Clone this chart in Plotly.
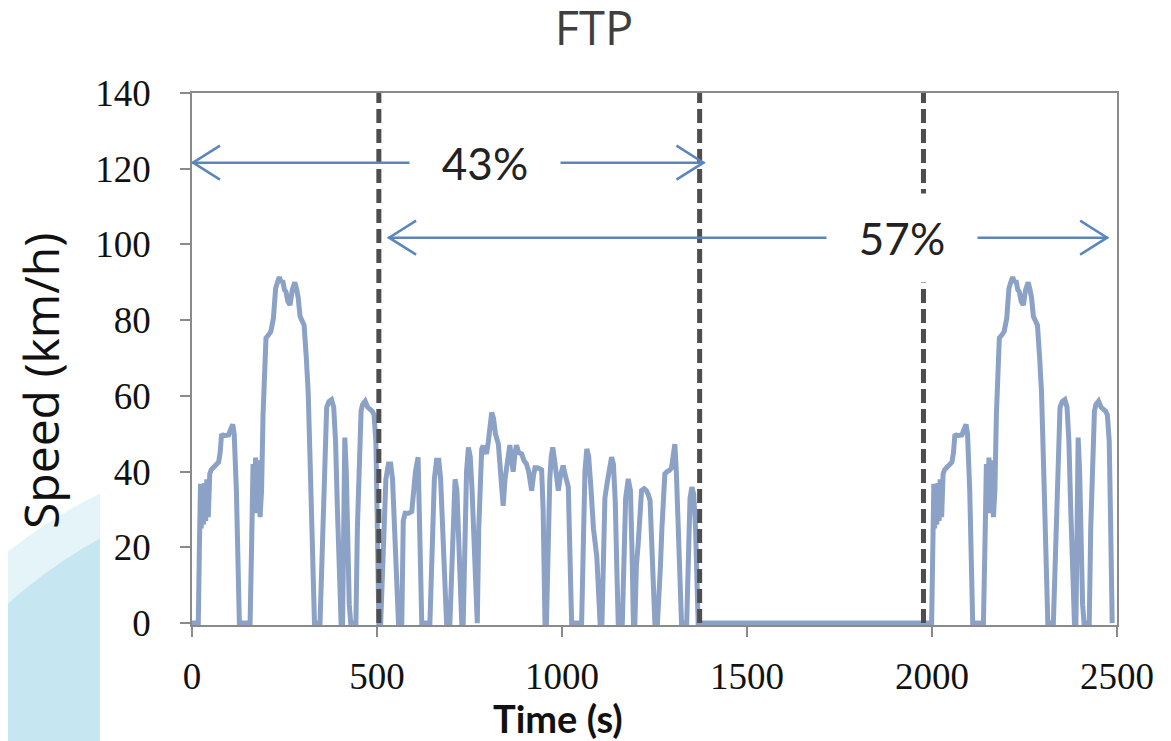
import plotly.graph_objects as go

# ---------------- data ----------------
phase1_time = [0, 17, 20, 23, 25, 28, 31, 34, 37, 40,
               44, 48, 52, 57, 62, 67, 72, 76, 80, 85,
               92, 99, 104, 110, 114, 120, 128, 157, 161, 165,
               168, 172, 176, 180, 184, 188, 192, 196, 200, 206,
               213, 220, 226, 231, 236, 241, 245, 250, 254, 259,
               265, 271, 278, 283, 287, 292, 298, 303, 309, 314,
               320, 326, 331, 346, 352, 358, 364, 370, 377, 383,
               388, 393, 398, 403, 407, 410, 413, 417, 421, 425,
               429, 443, 447, 452, 457, 461, 468, 475, 481, 487,
               492, 497, 501, 505]
phase1_speed = [0, 0, 20, 36.8, 25, 36, 26, 37, 27, 38,
                28, 39.4, 40.5, 41.2, 41.5, 42, 42.5, 45, 49.9, 49.5,
                49.5, 49.7, 51, 52.5, 50, 35, 0, 0, 20, 42,
                30, 43.7, 29, 43, 28, 35, 55, 70, 75.3, 76,
                77, 80.5, 88.4, 90, 91.4, 90, 90.5, 88, 87.5, 85,
                84, 88, 90, 88, 86, 81, 80, 78.7, 70, 61,
                40, 15, 0, 0, 20, 42, 57, 58.5, 59, 57,
                48, 30, 12, 0, 0, 25, 49, 40, 20, 5,
                0, 0, 25, 44, 56, 57.7, 58.6, 57, 56.5, 56,
                55, 48, 25, 0]

phase2_time = [510, 516, 524, 531, 537, 542, 547, 553, 558, 567,
               571, 576, 585, 594, 598, 604, 611, 615, 621, 643,
               649, 655, 661, 667, 672, 678, 688, 697, 702, 707,
               711, 716, 722, 729, 733, 737, 742, 747, 752, 757,
               762, 768, 771, 775, 779, 783, 787, 792, 796, 801,
               806, 810, 815, 820, 828, 834, 841, 846, 850, 855,
               859, 864, 868, 873, 877, 883, 891, 897, 904, 910,
               914, 918, 923, 927, 934, 940, 945, 949, 954, 958,
               962, 967, 971, 975, 980, 985, 990, 996, 1003, 1009,
               1017, 1021, 1026, 1053, 1057, 1062, 1067, 1072, 1078, 1085,
               1094, 1099, 1103, 1108, 1112, 1116, 1122, 1128, 1134, 1139,
               1144, 1148, 1152, 1163, 1167, 1172, 1179, 1185, 1189, 1193,
               1197, 1201, 1206, 1211, 1215, 1222, 1228, 1233, 1238, 1243,
               1247, 1251, 1258, 1262, 1266, 1270, 1275, 1278, 1284, 1290,
               1296, 1300, 1305, 1309, 1314, 1319, 1323, 1337, 1341, 1346,
               1351, 1356, 1361, 1365, 1368]
phase2_speed = [0, 20, 38, 42, 42, 38, 25, 8, 0, 0,
                27, 29, 29, 29.5, 35, 40, 43.8, 30, 0, 0,
                20, 38, 43, 43, 38, 20, 0, 0, 15, 33,
                38, 35, 18, 0, 0, 20, 40, 46.4, 44, 35,
                20, 0, 0, 25, 40, 46, 46.8, 45, 44.7, 48,
                53, 55.6, 54, 50, 47.3, 40, 31, 38, 41, 46,
                47, 43, 40, 45, 47, 45, 44.7, 43, 42, 40,
                37, 35, 39, 41, 41, 40.5, 40.5, 30, 0, 0,
                20, 38, 44, 46.4, 43, 38, 35, 39, 41.6, 39,
                36, 20, 0, 0, 20, 40, 46, 44, 36, 25,
                17.6, 8, 0, 0, 20, 33, 37, 40, 43.8, 42,
                32, 15, 0, 0, 20, 33, 38.1, 35, 20, 0,
                0, 15, 21, 28, 35, 35.5, 35, 34, 32.4, 20,
                8, 0, 0, 6, 15, 25, 36, 39.4, 40, 40.3,
                41, 44, 47.3, 40, 25, 10, 0, 0, 20, 33,
                35.9, 34, 25, 10, 0]

phase3_time = [1999, 2002, 2005, 2007, 2010, 2013, 2016, 2019, 2022,
               2026, 2030, 2034, 2039, 2044, 2049, 2054, 2058, 2062, 2067,
               2074, 2081, 2086, 2092, 2096, 2102, 2110, 2139, 2143, 2147,
               2150, 2154, 2158, 2162, 2166, 2170, 2174, 2178, 2182, 2188,
               2195, 2202, 2208, 2213, 2218, 2223, 2227, 2232, 2236, 2241,
               2247, 2253, 2260, 2265, 2269, 2274, 2280, 2285, 2291, 2296,
               2302, 2308, 2313, 2328, 2334, 2340, 2346, 2352, 2359, 2365,
               2370, 2375, 2380, 2385, 2389, 2392, 2395, 2399, 2403, 2407,
               2411, 2425, 2429, 2434, 2439, 2443, 2450, 2457, 2463, 2469,
               2474, 2479, 2483, 2487]
phase3_speed = [0, 20, 36.8, 25, 36, 26, 37, 27, 38,
                28, 39.4, 40.5, 41.2, 41.5, 42, 42.5, 45, 49.9, 49.5,
                49.5, 49.7, 51, 52.5, 50, 35, 0, 0, 20, 42,
                30, 43.7, 29, 43, 28, 35, 55, 70, 75.3, 76,
                77, 80.5, 88.4, 90, 91.4, 90, 90.5, 88, 87.5, 85,
                84, 88, 90, 88, 86, 81, 80, 78.7, 70, 61,
                40, 15, 0, 0, 20, 42, 57, 58.5, 59, 57,
                48, 30, 12, 0, 0, 25, 49, 40, 20, 5,
                0, 0, 25, 44, 56, 57.7, 58.6, 57, 56.5, 56,
                55, 48, 25, 0]

phase_bounds = [505, 1372, 1977]          # dashed separators (s)
share_labels = ["43%", "57%"]
share_spans = [(0, 1385), (530, 2476)]    # arrow extents (s)
share_levels = [121.6, 101.8]             # arrow heights (km/h)
share_label_x = [792, 1919]

x_ticks = [0, 500, 1000, 1500, 2000, 2500]
y_ticks = [0, 20, 40, 60, 80, 100, 120, 140]

assert len(phase1_time) == len(phase1_speed)
assert len(phase2_time) == len(phase2_speed)
assert len(phase3_time) == len(phase3_speed)

time = phase1_time + phase2_time + phase3_time
speed = phase1_speed + phase2_speed + phase3_speed

# page body has an 8px margin: figure is drawn 8px smaller and offset
W, H = 1163, 733

# ---------------- figure ----------------
fig = go.Figure()
fig.add_trace(go.Scatter(x=time, y=speed, mode="lines",
                         line=dict(color="#8ba1c5", width=5),
                         hoverinfo="skip", showlegend=False))

shapes = []
# decorative background circle (bottom-left), clipped by the white chart panel
shapes.append(dict(type="circle", xref="paper", yref="paper", layer="below",
                   x0=-0.413, x1=0.711, y0=-1.607, y1=0.348,
                   fillcolor="#e4f4f9", line=dict(width=0)))
shapes.append(dict(type="circle", xref="paper", yref="paper", layer="below",
                   x0=-0.370, x1=0.668, y0=-1.532, y1=0.273,
                   fillcolor="#c6e7f1", line=dict(width=0)))
shapes.append(dict(type="rect", xref="paper", yref="paper", layer="below",
                   x0=-0.0995, x1=1.3, y0=-1.0, y1=1.3,
                   fillcolor="white", line=dict(width=0)))

for b in phase_bounds:
    shapes.append(dict(type="line", xref="x", yref="y", layer="above",
                       x0=b, x1=b, y0=0, y1=140,
                       line=dict(color="#4e4e4e", width=5, dash="14px,6px")))

arrow_col = "#5b86bd"
for (a0, a1), lvl in zip(share_spans, share_levels):
    shapes.append(dict(type="line", xref="x", yref="y", layer="above",
                       x0=a0, x1=a1, y0=lvl, y1=lvl,
                       line=dict(color=arrow_col, width=2.5)))
    # open chevron heads
    shapes.append(dict(type="path", xref="x", yref="y", layer="above",
                       xsizemode="pixel", ysizemode="pixel",
                       xanchor=a0, yanchor=lvl,
                       path="M 28 17 L 1 0 L 28 -17",
                       line=dict(color=arrow_col, width=2.5)))
    shapes.append(dict(type="path", xref="x", yref="y", layer="above",
                       xsizemode="pixel", ysizemode="pixel",
                       xanchor=a1, yanchor=lvl,
                       path="M -28 17 L -1 0 L -28 -17",
                       line=dict(color=arrow_col, width=2.5)))

annotations = []
for lab, lx, lvl in zip(share_labels, share_label_x, share_levels):
    annotations.append(dict(text=lab, x=lx, y=lvl, xref="x", yref="y",
                            showarrow=False, xanchor="center", yanchor="middle",
                            width=150, height=88, bgcolor="white", borderpad=0,
                            font=dict(family="Lato", size=44, color="#222222")))

annotations.append(dict(text="Time (s)", x=(558 - 192) / 925, y=(625 - 718) / 532,
                        xref="paper", yref="paper", showarrow=False,
                        xanchor="center", yanchor="middle",
                        font=dict(family="Lato", size=38, color="#111111", weight="bold")))
annotations.append(dict(text="Speed (km/h)", x=(40 - 192) / 925, y=(625 - 381) / 532,
                        xref="paper", yref="paper", showarrow=False, textangle=-90,
                        xanchor="center", yanchor="middle",
                        font=dict(family="Open Sans", size=48, color="#111111")))

fig.update_layout(
    width=W, height=H,
    margin=dict(l=184, r=54, t=85, b=116),
    paper_bgcolor="white", plot_bgcolor="white",
    showlegend=False,
    title=dict(text="FTP", x=(594 - 8) / W, xanchor="center", y=1 - (29 - 8) / H, yanchor="middle",
               font=dict(family="Open Sans", size=47, color="#3f3f3f")),
    shapes=shapes, annotations=annotations,
    xaxis=dict(range=[0, 2500], tickvals=x_ticks, showgrid=False, zeroline=False,
               showline=True, linecolor="#8a8a8a", linewidth=1.5, mirror=True,
               ticks="outside", ticklen=10, tickwidth=1.5, tickcolor="#8a8a8a",
               ticklabelstandoff=8,
               tickfont=dict(family="Liberation Serif", size=37, color="#111111")),
    yaxis=dict(range=[-0.5, 140], tickvals=y_ticks, showgrid=False, zeroline=False,
               showline=True, linecolor="#8a8a8a", linewidth=1.5, mirror=True,
               ticks="outside", ticklen=10, tickwidth=1.5, tickcolor="#8a8a8a",
               ticklabelstandoff=22,
               tickfont=dict(family="Liberation Serif", size=37, color="#111111")),
)

fig.write_html("out.html")
